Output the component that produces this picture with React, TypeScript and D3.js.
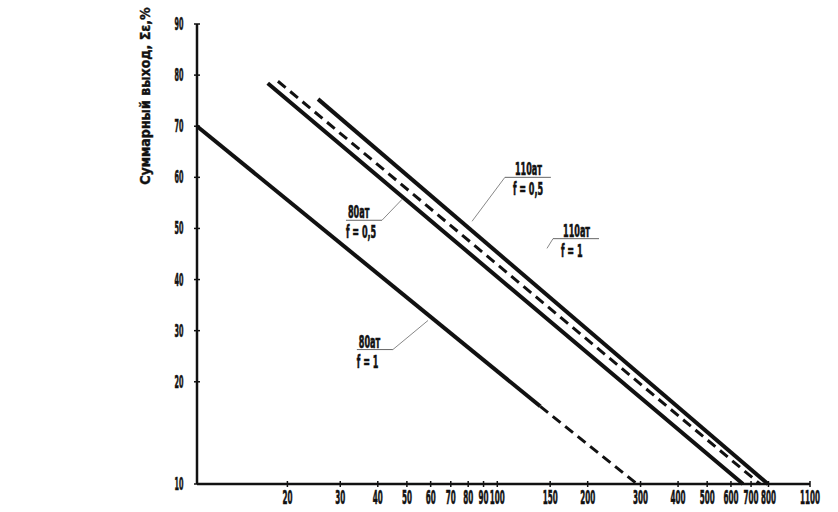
import * as d3 from 'd3';

const xTicks = [20, 30, 40, 50, 60, 70, 80, 90, 100, 150, 200, 300, 400, 500, 600, 700, 800, 1100];
const yTicks = [10, 20, 30, 40, 50, 60, 70, 80, 90];

const line80f1 = [{ x: 10, y: 70 }, { x: 139, y: 17.6 }];
const line80f1Tail = [{ x: 139, y: 17.6 }, { x: 292, y: 10 }];
const line80f05 = [{ x: 17.2, y: 78.4 }, { x: 658, y: 10 }];
const line110f05 = [{ x: 18.6, y: 78.8 }, { x: 750, y: 10 }];
const line110f1 = [{ x: 25.3, y: 75.3 }, { x: 797, y: 10 }];

const notes = [
  { top: '80ат', bottom: 'f = 1', tip: [58.8, 32], at: [44.9, 26.3], side: 'right' },
  { top: '80ат', bottom: 'f = 0,5', tip: [48.2, 55.7], at: [41.3, 51.6], side: 'right' },
  { top: '110ат', bottom: 'f = 0,5', tip: [82.4, 51.4], at: [106, 60], side: 'left' },
  { top: '110ат', bottom: 'f = 1', tip: [146.4, 46.1], at: [153.3, 48], side: 'left' },
];

const W = 838;
const H = 512;
const left = 197, right = 810, top = 24, bottom = 484;
const FONT = "'DejaVu Sans Condensed', 'Liberation Sans Narrow', sans-serif";

export default function App() {
  const x = d3.scaleLog().domain([10, 1100]).range([left, right]);
  // ось Y: от 20 до 90 линейно, ниже 20 — разрыв до 10
  const y = d3.scaleLinear().domain([10, 20, 90]).range([bottom, bottom - (bottom - top) * 2 / 9, top]);
  const line = d3.line<{ x: number; y: number }>().x(d => x(d.x)).y(d => y(d.y));

  const label = (tx: number, ty: number, s: string, size: number, sx: number, anchor = 'middle') => (
    <text
      transform={`translate(${tx},${ty}) scale(${sx},1)`}
      textAnchor={anchor}
      fontFamily={FONT}
      fontWeight="bold"
      fontSize={size}
      fill="#111"
      stroke="#111"
      strokeWidth={0.6}
    >{s}</text>
  );

  return (
    <svg width={W} height={H} style={{ position: 'absolute', left: 0, top: 0, background: '#fff' }}>
      {/* оси */}
      <line x1={left} y1={top} x2={left} y2={bottom} stroke="#111" strokeWidth={2.5} />
      <line x1={left} y1={bottom} x2={right} y2={bottom} stroke="#111" strokeWidth={2.5} />

      {yTicks.map(t => (
        <g key={'y' + t}>
          <line x1={left - 3} x2={left + 3} y1={y(t)} y2={y(t)} stroke="#111" strokeWidth={1.5} />
          {label(left - 18, y(t) + 6, String(t), 17, 0.42)}
        </g>
      ))}
      {xTicks.map(t => (
        <g key={'x' + t}>
          <line x1={x(t)} x2={x(t)} y1={bottom - 3} y2={bottom + 3} stroke="#111" strokeWidth={1.5} />
          {label(x(t), bottom + 20, String(t), 20, 0.4)}
        </g>
      ))}

      <text
        transform={`translate(150,96) rotate(-90)`}
        textAnchor="middle"
        fontFamily={FONT}
        fontWeight="bold"
        fontSize={14}
        fill="#111"
        stroke="#111"
        strokeWidth={0.4}
      >Суммарный выход, Σε,%</text>

      {/* линии */}
      <path d={line(line80f1) ?? ''} fill="none" stroke="#111" strokeWidth={4} />
      <path d={line(line80f1Tail) ?? ''} fill="none" stroke="#111" strokeWidth={3} strokeDasharray="10,6" />
      <path d={line(line80f05) ?? ''} fill="none" stroke="#111" strokeWidth={4} />
      <path d={line(line110f05) ?? ''} fill="none" stroke="#111" strokeWidth={3} strokeDasharray="10,6" />
      <path d={line(line110f1) ?? ''} fill="none" stroke="#111" strokeWidth={4} />

      {/* подписи */}
      {notes.map((n, i) => {
        const ax = x(n.at[0]), ay = y(n.at[1]);
        const tx = x(n.tip[0]), ty = y(n.tip[1]);
        const len = n.side === 'right' ? 36 : 46;
        const x0 = n.side === 'right' ? ax - len : ax;
        const x1 = n.side === 'right' ? ax : ax + len;
        return (
          <g key={'n' + i}>
            <line x1={ax} y1={ay} x2={tx} y2={ty} stroke="#888" strokeWidth={1} />
            <line x1={x0} y1={ay} x2={x1} y2={ay} stroke="#666" strokeWidth={1} />
            {label(x0 + (n.side === 'right' ? 2 : 10), ay - 2, n.top, 18, 0.5, 'start')}
            {label(x0 + (n.side === 'right' ? 0 : 8), ay + 18, n.bottom, 18, 0.5, 'start')}
          </g>
        );
      })}
    </svg>
  );
}
